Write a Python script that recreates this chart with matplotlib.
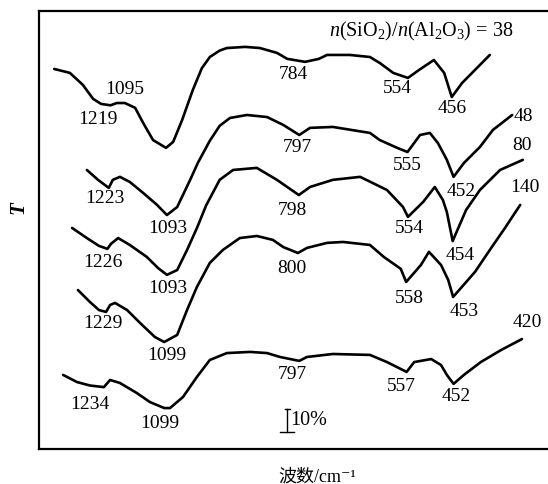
import matplotlib
matplotlib.use('Agg')
import matplotlib.pyplot as plt

plt.rcParams['font.family'] = ['Liberation Serif', 'Noto Sans CJK SC', 'DejaVu Sans']
plt.rcParams['mathtext.fontset'] = 'custom'
plt.rcParams['mathtext.rm'] = 'Liberation Serif'
plt.rcParams['mathtext.it'] = 'Liberation Serif:italic'

# Espectros IR (numero de onda en cm-1, T en % con desplazamiento)
wn_38 = [1345, 1310, 1281, 1258, 1240, 1219, 1205, 1187, 1164, 1146, 1124, 1095, 1079, 1059,
         1035, 1015, 997, 975, 959, 918, 885, 847, 824, 784, 753, 735, 684, 639, 617, 587, 554,
         529, 496, 473, 456, 433, 404, 371]
t_38 = [165.2, 163.5, 158.3, 152.2, 150.0, 149.4, 150.4, 150.4, 148.3, 141.7, 134.3, 130.9,
        133.5, 143.0, 156.1, 165.5, 170.4, 173.2, 174.3, 174.8, 174.3, 172.2, 169.6, 168.3,
        169.6, 171.3, 171.3, 170.4, 167.8, 163.5, 161.3, 164.8, 169.1, 163.5, 153.0, 159.1,
        164.8, 171.3]

wn_48 = [1272, 1247, 1223, 1214, 1198, 1176, 1146, 1115, 1093, 1070, 1041, 1024, 997, 975,
         952, 914, 869, 833, 797, 773, 722, 639, 617, 578, 555, 527, 505, 487, 467, 452,
         429, 393, 364, 321]
t_48 = [121.3, 117.0, 113.5, 117.0, 118.3, 116.1, 111.3, 106.1, 101.7, 105.2, 117.0, 124.3,
        134.0, 140.5, 143.9, 145.2, 144.3, 140.9, 136.5, 139.6, 140.0, 137.4, 134.3, 130.9,
        129.1, 136.5, 137.4, 133.0, 125.7, 118.3, 124.3, 131.3, 138.7, 145.2]

wn_80 = [1305, 1272, 1245, 1226, 1218, 1202, 1176, 1138, 1113, 1093, 1070, 1048, 1026, 1005,
         975, 945, 892, 847, 798, 773, 722, 661, 601, 565, 554, 520, 494, 476, 467, 454,
         424, 393, 348, 297]
t_80 = [96.1, 91.7, 88.3, 87.0, 89.2, 91.7, 88.7, 83.5, 78.7, 75.7, 77.8, 86.5, 96.0, 106.0,
        117.0, 121.3, 122.2, 117.0, 110.4, 113.9, 117.0, 118.3, 112.6, 105.2, 100.9, 107.4,
        113.9, 108.3, 103.0, 90.4, 103.9, 112.6, 121.3, 125.7]

wn_140 = [1292, 1265, 1245, 1229, 1220, 1209, 1182, 1153, 1120, 1099, 1070, 1048, 1026, 997,
          968, 930, 892, 856, 833, 800, 780, 735, 699, 639, 608, 570, 558, 525, 507, 480,
          464, 453, 404, 371, 337, 303]
t_140 = [69.1, 63.9, 60.4, 59.6, 62.6, 63.5, 60.4, 54.8, 48.7, 46.5, 49.6, 60.4, 70.4, 80.9,
         86.5, 91.7, 92.6, 90.9, 87.8, 85.2, 87.4, 89.6, 90.0, 88.7, 83.5, 78.3, 72.6, 80.0,
         85.7, 80.0, 73.5, 66.1, 77.0, 86.5, 96.1, 106.1]

wn_420 = [1325, 1294, 1265, 1234, 1220, 1198, 1160, 1131, 1099, 1086, 1057, 1026, 997, 959,
          907, 869, 840, 797, 780, 722, 639, 601, 557, 540, 502, 480, 467, 452, 429, 391,
          346, 299]
t_420 = [32.2, 29.1, 27.6, 26.9, 30.0, 28.7, 24.3, 20.4, 17.8, 17.8, 22.6, 31.3, 38.7, 41.7,
         42.2, 41.7, 40.0, 38.3, 40.0, 41.3, 40.9, 37.8, 33.5, 37.8, 39.1, 36.5, 32.2, 28.3,
         32.2, 37.8, 43.0, 47.8]

# Bandas marcadas en cada espectro
peaks_38 = [1219, 1095, 784, 554, 456]
peaks_48 = [1223, 1093, 797, 555, 452]
peaks_80 = [1226, 1093, 798, 554, 454]
peaks_140 = [1229, 1099, 800, 558, 453]
peaks_420 = [1234, 1099, 797, 557, 452]

ratios = [38, 48, 80, 140, 420]

fig = plt.figure(figsize=(5.48, 4.84), dpi=100)
ax = fig.add_axes([39 / 548, 35 / 484, 521 / 548, 438 / 484])
ax.set_xlim(1379, 214)
ax.set_ylim(0, 190.4)
ax.set_xticks([])
ax.set_yticks([])
for s in ax.spines.values():
    s.set_linewidth(1.6)

curvas = [(wn_38, t_38, peaks_38), (wn_48, t_48, peaks_48), (wn_80, t_80, peaks_80),
          (wn_140, t_140, peaks_140), (wn_420, t_420, peaks_420)]

# desplazamiento de cada etiqueta respecto a su banda (pixeles)
offsets = [
    [(-13, -14), (-41, 58), (-12, -13), (-11, -11), (0, -11)],
    [(-4, -11), (1, -13), (-2, -13), (0, -13), (8, -15)],
    [(-5, -14), (1, -14), (-6, -15), (1, -12), (8, -14)],
    [(-3, -12), (3, -13), (-6, -15), (3, -17), (11, -15)],
    [(-14, -17), (-4, -15), (-7, -14), (-5, -15), (3, -13)],
]
end_offsets = [None, (11, -2), (-1, 14), (5, 17), (5, 17)]

for i in range(len(curvas)):
    wn, t, peaks = curvas[i]
    ax.plot(wn, t, color='black', lw=1.9, solid_capstyle='round', solid_joinstyle='round')
    for j in range(len(peaks)):
        p = peaks[j]
        ax.annotate(str(p), xy=(p, t[wn.index(p)]), xytext=offsets[i][j],
                    textcoords='offset pixels', ha='center', va='center', fontsize=14)
    if end_offsets[i] is not None:
        ax.annotate(str(ratios[i]), xy=(wn[-1], t[-1]), xytext=end_offsets[i],
                    textcoords='offset pixels', ha='center', va='center', fontsize=14)

fig.text(421 / 548, 1 - 31 / 484,
         r'$n$(SiO$_2$)/$n$(Al$_2$O$_3$) = %d' % ratios[0],
         ha='center', va='center', fontsize=14.5)

# barra de escala del 10 %
ax.plot([824, 824], [7.4, 17.4], color='black', lw=1.0)
ax.plot([830, 818], [17.4, 17.4], color='black', lw=1.0)
ax.plot([840, 808], [7.4, 7.4], color='black', lw=1.0)
ax.text(817, 12.4, '10%', ha='left', va='center', fontsize=14.5)

fig.text(18 / 548, 1 - 208 / 484, 'T', rotation=90, ha='center', va='center',
         fontsize=15, fontweight='bold', fontstyle='italic')
fig.text(317 / 548, 1 - 477 / 484, '波数/cm⁻¹', ha='center', va='center', fontsize=13)

plt.savefig('out.png')
plt.close()
